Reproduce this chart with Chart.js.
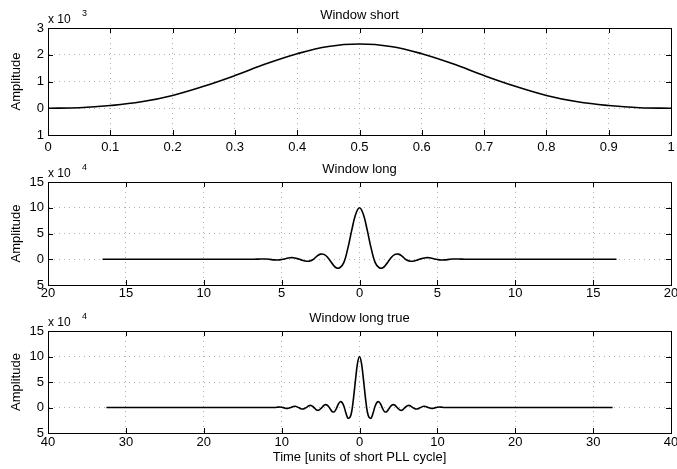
<!DOCTYPE html>
<html>
<head>
<meta charset="utf-8">
<script src="https://cdn.jsdelivr.net/npm/chart.js@4"></script>
<style>
  body { margin: 0; background: #fff; }
  #wrap { position: relative; width: 677px; height: 469px; }
  canvas { position: absolute; left: 0; top: 0; }
</style>
</head>
<body>
<div id="wrap">
  <canvas id="c1" width="677" height="469"></canvas>
  <canvas id="c2" width="677" height="469"></canvas>
  <canvas id="c3" width="677" height="469"></canvas>
</div>
<script>
// Window short (units of 1e-3)
const shortTime = [0, 0.05, 0.1, 0.15, 0.2, 0.25, 0.3, 0.35, 0.4, 0.45, 0.5,
  0.55, 0.6, 0.65, 0.7, 0.75, 0.8, 0.85, 0.9, 0.95, 1];
const shortAmp = [0, 0.02, 0.1, 0.24, 0.48, 0.82, 1.22, 1.66, 2.04, 2.31, 2.4,
  2.31, 2.04, 1.66, 1.22, 0.82, 0.48, 0.24, 0.1, 0.02, 0];

// Window long (units of 1e-4)
const longTime = [-16.5, -7, -6.75, -6.5, -6.25, -6, -5.75, -5.5, -5.25, -5,
  -4.75, -4.5, -4.25, -4, -3.75, -3.5, -3.25, -3, -2.75, -2.5, -2.25, -2,
  -1.75, -1.5, -1.25, -1, -0.75, -0.5, -0.25, 0, 0.25, 0.5, 0.75, 1, 1.25,
  1.5, 1.75, 2, 2.25, 2.5, 2.75, 3, 3.25, 3.5, 3.75, 4, 4.25, 4.5, 4.75, 5,
  5.25, 5.5, 5.75, 6, 6.25, 6.5, 6.75, 7, 16.5];
const longAmp = [0, 0, 0, 0.03, 0.06, 0.04, -0.03, -0.12, -0.15, -0.06,
  0.1, 0.28, 0.3, 0.12, -0.12, -0.35, -0.38, -0.1, 0.55, 1.0, 0.9, 0.2,
  -0.85, -1.65, -1.6, -0.6, 2.1, 5.6, 8.7, 10, 8.7, 5.6, 2.1, -0.6, -1.6,
  -1.65, -0.85, 0.2, 0.9, 1.0, 0.55, -0.1, -0.38, -0.35, -0.12, 0.12, 0.3,
  0.28, 0.1, -0.06, -0.15, -0.12, -0.03, 0.04, 0.06, 0.03, 0, 0, 0];

// Window long true (units of 1e-4)
const trueTime = [-32.5, -11, -10.75, -10.5, -10.25, -10, -9.75, -9.5, -9.25,
  -9, -8.75, -8.5, -8.25, -8, -7.75, -7.5, -7.25, -7, -6.75, -6.5, -6.25, -6,
  -5.75, -5.5, -5.25, -5, -4.75, -4.5, -4.25, -4, -3.75, -3.5, -3.25, -3,
  -2.75, -2.5, -2.25, -2, -1.75, -1.5, -1.25, -1, -0.75, -0.5, -0.25, 0,
  0.25, 0.5, 0.75, 1, 1.25, 1.5, 1.75, 2, 2.25, 2.5, 2.75, 3, 3.25, 3.5,
  3.75, 4, 4.25, 4.5, 4.75, 5, 5.25, 5.5, 5.75, 6, 6.25, 6.5, 6.75, 7, 7.25,
  7.5, 7.75, 8, 8.25, 8.5, 8.75, 9, 9.25, 9.5, 9.75, 10, 10.25, 10.5, 10.75,
  11, 32.5];
const trueAmp = [0, 0, 0.01, 0.07, 0.1, 0.06, -0.02, -0.14, -0.18, -0.1,
  0.04, 0.2, 0.25, 0.12, -0.05, -0.25, -0.3, -0.15, 0.08, 0.35, 0.4, 0.2,
  -0.15, -0.5, -0.55, -0.25, 0.15, 0.5, 0.55, 0.25, -0.3, -0.8, -0.85, -0.3,
  0.55, 1.1, 1.0, 0.25, -1.05, -2.05, -2.0, -0.8, 2.1, 5.6, 8.7, 10,
  8.7, 5.6, 2.1, -0.8, -2.0, -2.05, -1.05, 0.25, 1.0, 1.1, 0.55, -0.3, -0.85,
  -0.8, -0.3, 0.25, 0.55, 0.5, 0.15, -0.25, -0.55, -0.5, -0.15, 0.2, 0.4,
  0.35, 0.08, -0.15, -0.3, -0.25, -0.05, 0.12, 0.25, 0.2, 0.04, -0.1, -0.18,
  -0.14, -0.02, 0.06, 0.1, 0.07, 0.01, 0, 0];

const FONT = '"Liberation Sans", Arial, Helvetica, sans-serif';
Chart.defaults.font.family = FONT;
Chart.defaults.font.size = 13;
Chart.defaults.color = '#000';

// box, inward ticks and the exponent note
const frame = {
  id: 'frame',
  afterDraw(chart, args, opts) {
    const { ctx, chartArea: a, scales } = chart;
    ctx.save();
    ctx.strokeStyle = '#000';
    ctx.lineWidth = 1;
    ctx.strokeRect(a.left + 0.5, a.top + 0.5, a.right - a.left, a.bottom - a.top);
    ctx.beginPath();
    scales.x.ticks.forEach((t, i) => {
      const px = Math.round(scales.x.getPixelForTick(i)) + 0.5;
      ctx.moveTo(px, a.bottom); ctx.lineTo(px, a.bottom - 5);
      ctx.moveTo(px, a.top); ctx.lineTo(px, a.top + 5);
    });
    scales.y.ticks.forEach((t, i) => {
      const py = Math.round(scales.y.getPixelForTick(i)) + 0.5;
      ctx.moveTo(a.left, py); ctx.lineTo(a.left + 5, py);
      ctx.moveTo(a.right, py); ctx.lineTo(a.right - 5, py);
    });
    ctx.stroke();
    ctx.fillStyle = '#000';
    ctx.textBaseline = 'alphabetic';
    ctx.font = '12px ' + FONT;
    ctx.fillText('x 10', a.left, a.top - 5);
    ctx.font = '9px ' + FONT;
    ctx.fillText(opts.exp, a.left + 34, a.top - 12);
    ctx.restore();
  }
};

function makeChart(id, xs, ys, cfg) {
  const pts = xs.map((x, i) => ({ x: x, y: ys[i] }));
  return new Chart(document.getElementById(id), {
    type: 'line',
    data: {
      datasets: [{
        data: pts,
        borderColor: '#000',
        borderWidth: 1.6,
        pointRadius: 0,
        tension: 0.4,
        fill: false
      }]
    },
    options: {
      responsive: false,
      animation: false,
      layout: { padding: { left: 0, right: 6, top: cfg.padTop, bottom: cfg.padBottom } },
      plugins: {
        legend: { display: false },
        tooltip: { enabled: false },
        title: {
          display: true,
          text: cfg.title,
          fullSize: false,
          font: { size: 13, weight: 'normal' },
          padding: { top: 0, bottom: cfg.titleGap }
        },
        frame: { exp: cfg.exp }
      },
      scales: {
        x: {
          type: 'linear',
          min: cfg.xMin, max: cfg.xMax,
          afterBuildTicks: s => { s.ticks = cfg.xTicks.map(v => ({ value: v })); },
          ticks: {
            padding: cfg.xPad,
            maxRotation: 0,
            autoSkip: false,
            callback: v => String(Math.abs(Math.round(v * 10) / 10))
          },
          grid: { color: '#b0b0b0', lineWidth: 1, drawTicks: false },
          border: { color: '#000', dash: [1, 4] },
          title: {
            display: !!cfg.xTitle,
            text: cfg.xTitle || '',
            font: { size: 13 },
            padding: { top: 0, bottom: 4.2 }
          },
          afterFit: s => {
            s.height = cfg.xHeight;
            s.paddingLeft = 0;
            s.paddingRight = 0;
          }
        },
        y: {
          min: cfg.yMin, max: cfg.yMax,
          afterBuildTicks: s => { s.ticks = cfg.yTicks.map(v => ({ value: v })); },
          ticks: {
            padding: 4,
            callback: v => String(Math.abs(v))
          },
          grid: { color: '#b0b0b0', lineWidth: 1, drawTicks: false },
          border: { color: '#000', dash: [1, 4] },
          title: {
            display: true,
            text: 'Amplitude',
            font: { size: 13 },
            padding: { top: 8.7, bottom: 0 }
          },
          afterFit: s => {
            s.width = 48;
            s.paddingTop = 0;
            s.paddingBottom = 0;
          }
        }
      }
    },
    plugins: [frame]
  });
}

const shortXTicks = [0, 0.1, 0.2, 0.3, 0.4, 0.5, 0.6, 0.7, 0.8, 0.9, 1];
const shortYTicks = [-1, 0, 1, 2, 3];
const longXTicks = [-20, -15, -10, -5, 0, 5, 10, 15, 20];
const trueXTicks = [-40, -30, -20, -10, 0, 10, 20, 30, 40];
const longYTicks = [-5, 0, 5, 10, 15];

makeChart('c1', shortTime, shortAmp, {
  title: 'Window short', exp: '3',
  xMin: 0, xMax: 1, xTicks: shortXTicks,
  yMin: -1, yMax: 3, yTicks: shortYTicks,
  padTop: 7.2, titleGap: 5.2, padBottom: 314, xHeight: 20, xPad: 5
});
makeChart('c2', longTime, longAmp, {
  title: 'Window long', exp: '4',
  xMin: -20, xMax: 20, xTicks: longXTicks,
  yMin: -5, yMax: 15, yTicks: longYTicks,
  padTop: 161.2, titleGap: 5.2, padBottom: 164, xHeight: 20, xPad: 1
});
makeChart('c3', trueTime, trueAmp, {
  title: 'Window long true', exp: '4',
  xMin: -40, xMax: 40, xTicks: trueXTicks,
  yMin: -5, yMax: 15, yTicks: longYTicks,
  padTop: 310.7, titleGap: 4.7, padBottom: 0, xHeight: 36, xPad: 2,
  xTitle: 'Time [units of short PLL cycle]'
});
</script>
</body>
</html>
